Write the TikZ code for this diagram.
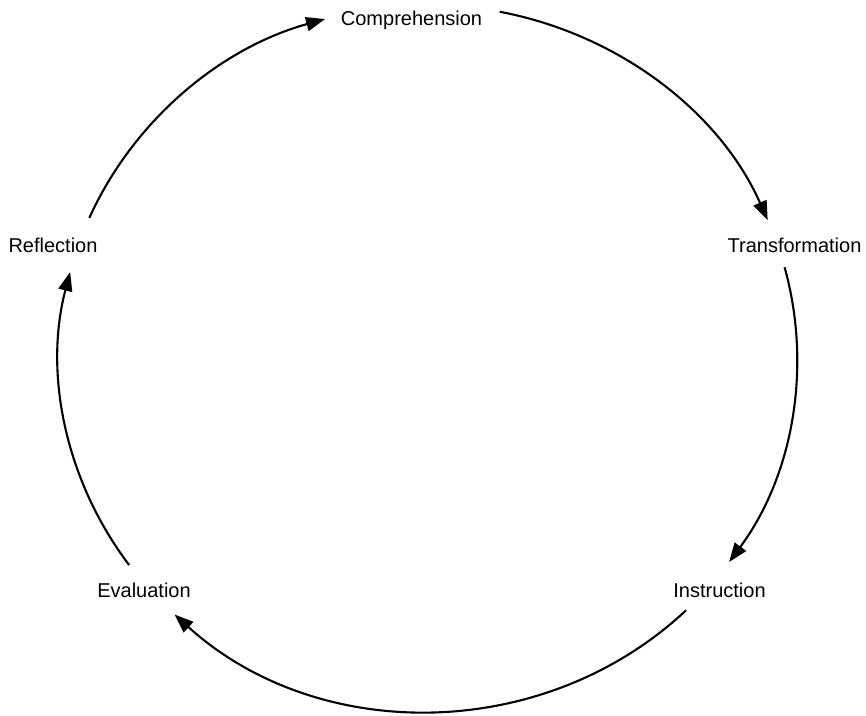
\documentclass[tikz,border=0pt]{standalone}
\usepackage{fontspec}
\setmainfont{Liberation Sans}
\usetikzlibrary{arrows.meta,calc}
\begin{document}
\begin{tikzpicture}[x=1pt,y=-1pt,
  lbl/.style={font=\fontsize{20}{24}\selectfont, anchor=base, inner sep=0pt},
  cyc/.style={line width=2.1pt, -{Triangle[length=19pt,width=14pt]}}]
\useasboundingbox (0,0) rectangle (866,715);
\coordinate (c) at (428,358);
% labels
\node[lbl] (comp)  at (411.5,25)  {Comprehension};
\node[lbl] (trans) at (794.5,252) {Transformation};
\node[lbl] (instr) at (719.5,597) {Instruction};
\node[lbl] (eval)  at (144,597)   {Evaluation};
\node[lbl] (refl)  at (53,252)    {Reflection};
% arc end points on the ellipse
\coordinate (r1) at ($(c)+(203.4:369 and 353)$);
\coordinate (c1) at ($(c)+(281.2:369 and 353)$);
\coordinate (t1) at ($(c)+(345.1:369 and 353)$);
\coordinate (i1) at ($(c)+(45.6:369 and 353)$);
\coordinate (e1) at ($(c)+(144.1:369 and 353)$);
% connectors
\draw[cyc] (r1) arc[start angle=203.4, end angle=253.8, x radius=369, y radius=353];
\draw[cyc] (c1) arc[start angle=281.2, end angle=337.0, x radius=369, y radius=353];
\draw[cyc] (t1) arc[start angle=345.1, end angle=395.3, x radius=369, y radius=353];
\draw[cyc] (i1) arc[start angle=45.6, end angle=133.4, x radius=369, y radius=353];
\draw[cyc] (e1) arc[start angle=144.1, end angle=194.1, x radius=369, y radius=353];
\end{tikzpicture}
\end{document}
